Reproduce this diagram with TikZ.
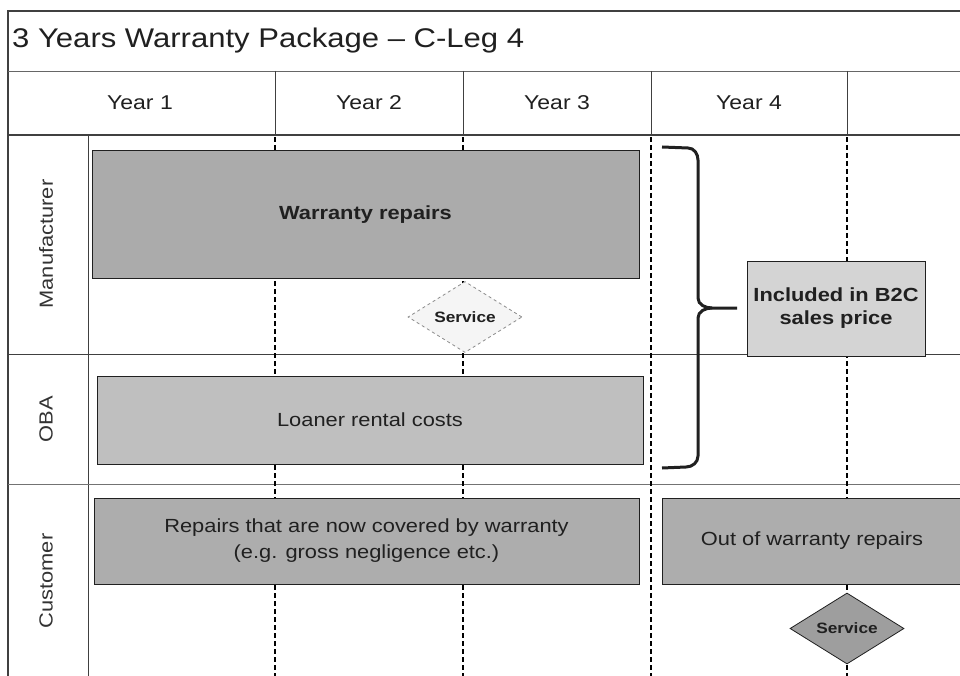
\documentclass[tikz,border=0pt]{standalone}
\usepackage{fontspec}
\setmainfont{Liberation Sans}[FakeStretch=1.15]
\usetikzlibrary{shapes.geometric}
\definecolor{ink}{HTML}{202020}
\definecolor{frame}{HTML}{404040}
\tikzset{
  fs/.style={font=\fontsize{#1}{#1}\selectfont},
  lanebox/.style={draw=ink, line width=1pt, inner sep=0pt, align=center, text=ink},
  servicebox/.style={diamond, aspect=1.63, inner sep=0pt, minimum width=114pt, minimum height=71pt, font=\fontsize{15}{18}\selectfont\bfseries, text=ink},
  timeline/.style={line width=2.6pt, dash pattern=on 5pt off 3pt, black},
  gridline/.style={line width=1pt, frame},
}
\begin{document}
\begin{tikzpicture}[x=1pt,y=-1pt]
\useasboundingbox (0,0) rectangle (960,676);
\fill[white] (0,0) rectangle (960,676);
% frame and grid
\draw[line width=2pt, frame] (960,11) -- (8,11) -- (8,676);
\draw[line width=0.8pt, black!60] (8,71) -- (960,71);
\draw[line width=2pt, frame] (8,135) -- (960,135);
\draw[gridline] (88,135) -- (88,676);
\draw[line width=1pt, black!75] (8,354) -- (960,354);
\draw[line width=0.8pt, black!55] (8,484) -- (960,484);
\foreach \x in {275,463,651,847} {
  \draw[gridline] (\x,71) -- (\x,135);
  \draw[timeline] (\x,137) -- (\x,676);
}
% title and headers
\node[anchor=west, fs=27, text=ink, inner sep=0pt] (title) at (12,41) {3 Years Warranty Package -- C-Leg 4};
\node[fs=20, text=ink] (y1) at (140,103) {Year 1};
\node[fs=20, text=ink] (y2) at (369,103) {Year 2};
\node[fs=20, text=ink] (y3) at (557,103) {Year 3};
\node[fs=20, text=ink] (y4) at (749,103) {Year 4};
% lane labels
\node[fs=19, text=black!80, rotate=90] (lman) at (46,244) {Manufacturer};
\node[fs=19, text=black!80, rotate=90] (loba) at (46,419) {OBA};
\node[fs=19, text=black!80, rotate=90] (lcus) at (46,581) {Customer};
% boxes
\node[lanebox, fill=black!33, minimum width=547pt, minimum height=127pt, font=\fontsize{19}{23}\selectfont\bfseries] (wr) at (365.5,214.5) {Warranty repairs};
\node[servicebox, draw=black!45, dashed, line width=0.8pt, fill=black!4] (s1) at (465,317) {Service};
\node[lanebox, fill=black!25, minimum width=546pt, minimum height=88pt, fs=19] (lr) at (370,420) {Loaner rental costs};
\node[lanebox, fill=black!32, minimum width=545pt, minimum height=86pt, font=\fontsize{19}{26}\selectfont] (rc) at (366.5,541) {Repairs that are now covered by warranty\\(e.g. gross negligence etc.)};
\node[lanebox, fill=black!32, minimum width=300pt, minimum height=86pt, fs=19] (ow) at (812,541) {Out of warranty repairs};
\node[servicebox, draw=ink, line width=0.8pt, fill=black!38] (s2) at (847,628.5) {Service};
\node[lanebox, fill=black!17, minimum width=178pt, minimum height=95pt, font=\fontsize{19}{23}\selectfont\bfseries] (inc) at (836,308.5) {Included in B2C\\sales price};
% brace
\coordinate (btop) at (662,147);
\coordinate (bbot) at (662,468);
\coordinate (btip) at (737,308);
\draw[line width=3pt, ink, line join=round]
  (btop) -- (688,148) to[out=0,in=90] (698,160) -- (698,298)
  to[out=-90,in=180] (712,308) -- (btip);
\draw[line width=3pt, ink, line join=round]
  (712,308) to[out=180,in=90] (698,318) -- (698,456)
  to[out=-90,in=0] (686,467) -- (bbot);
\end{tikzpicture}
\end{document}
